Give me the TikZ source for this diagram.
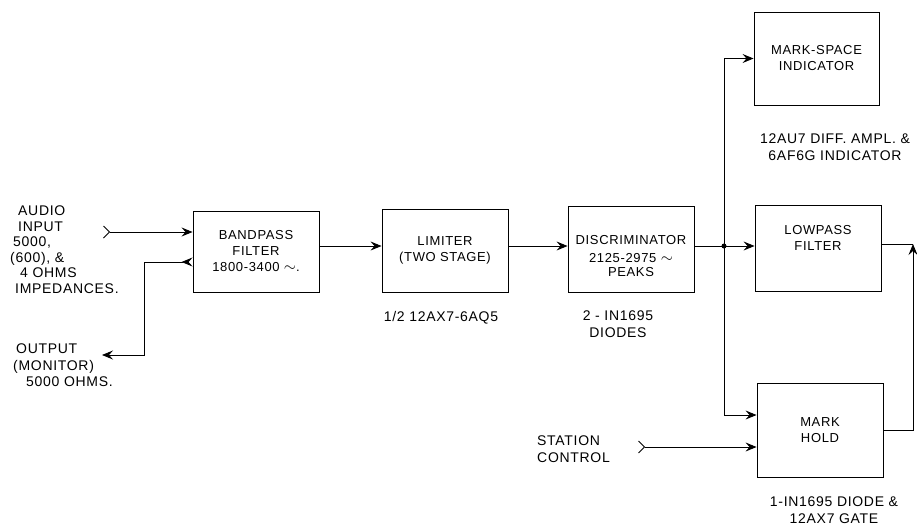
\documentclass[tikz,border=0pt]{standalone}
\usepackage{fontspec}
\setmainfont{Liberation Sans}[LetterSpace=5]
\usetikzlibrary{arrows.meta}

\newcommand{\cyc}{\raisebox{0pt}[0pt][0pt]{\scalebox{1.3}{$\sim$}}}

\begin{document}
\begin{tikzpicture}[
  x=1pt, y=-1pt,
  font=\fontsize{13}{16}\selectfont,
  block/.style={draw=black, line width=0.9pt, minimum width=126pt, align=center, inner sep=0pt},
  wire/.style={line width=0.9pt},
  sig/.style={wire, -{Stealth[length=11pt,width=9pt,inset=4pt]}},
  feed/.style={wire, {Straight Barb[reversed,length=6pt,width=12pt,line width=1pt]}-{Stealth[length=11pt,width=9pt,inset=4pt]}},
  note/.style={align=center, inner sep=0pt, font=\fontsize{14}{16.5}\selectfont}
]
  \useasboundingbox (0,0) rectangle (917,525);

  % Bloques
  \node[block, minimum height=81pt] (bp) at (256,251.5) {BANDPASS\\FILTER\\1800-3400 \cyc.};
  \node[block, minimum height=83pt] (lim) at (445,250.5) {LIMITER\\(TWO STAGE)};
  \node[block, minimum height=86pt] (disc) at (631,249) {\mbox{}\\[8pt]DISCRIMINATOR\\[2pt]2125-2975 \cyc\\[-2pt]PEAKS};
  \node[block, minimum height=86pt] (lp) at (818,248) {LOWPASS\\FILTER\\[4pt]\mbox{}};
  \node[block, minimum height=93pt, minimum width=125pt] (ms) at (816.5,58.5) {MARK-SPACE\\INDICATOR};
  \node[block, minimum height=94pt] (mh) at (820,430) {MARK\\HOLD};

  % Puntos libres
  \coordinate (j) at (724,246);
  \coordinate (ain) at (103,232);
  \coordinate (mon) at (102,355);
  \coordinate (sc) at (638,447);
  \coordinate (lpo) at (913,244);

  % Conexiones
  \draw[feed] (ain) -- (bp.west |- ain);
  \draw[wire, {Stealth[reversed,length=11pt,width=9pt,inset=4pt]}-{Stealth[length=11pt,width=9pt,inset=4pt]}]
    ([yshift=-10.5pt]bp.west) -- ++(-48,0) |- (mon);
  \draw[sig] (bp.east |- j) -- (lim.west |- j);
  \draw[sig] (lim.east |- j) -- (disc.west |- j);
  \draw[wire] (disc.east |- j) -- (j);
  \fill (j) circle (2.5pt);
  \draw[sig] (j) -- (lp.west |- j);
  \draw[sig] (j) |- (ms.west);
  \draw[sig] (j) |- ([yshift=15pt]mh.west);
  \draw[feed] (sc) -- (sc -| mh.west);
  \draw[wire] (lp.east |- lpo) -- (lpo);
  \draw[sig] (mh.east) -| (lpo);

  % Etiquetas
  \node[note, align=left, anchor=north west, font=\fontsize{14}{15.5}\selectfont] (inlbl) at (10,206)
    {\hspace{8pt}AUDIO\\\hspace{8pt}INPUT\\\hspace{3pt}5000,\\(600), \&\\\hspace{10pt}4 OHMS\\\hspace{5pt}IMPEDANCES.};
  \node[note, align=left, anchor=north west] (outlbl) at (13,344)
    {\hspace{3pt}OUTPUT\\(MONITOR)\\\hspace{13pt}5000 OHMS.};
  \node[note] (limlbl) at (441,318) {1/2 12AX7-6AQ5};
  \node[note] (disclbl) at (618,324) {2 - IN1695\\DIODES};
  \node[note] (mslbl) at (835,147) {12AU7 DIFF. AMPL. \&\\6AF6G INDICATOR};
  \node[note] (mhlbl) at (834,510) {1-IN1695 DIODE \&\\12AX7 GATE};
  \node[note, align=left, anchor=west] (sclbl) at (537,449) {STATION\\CONTROL};
\end{tikzpicture}
\end{document}
